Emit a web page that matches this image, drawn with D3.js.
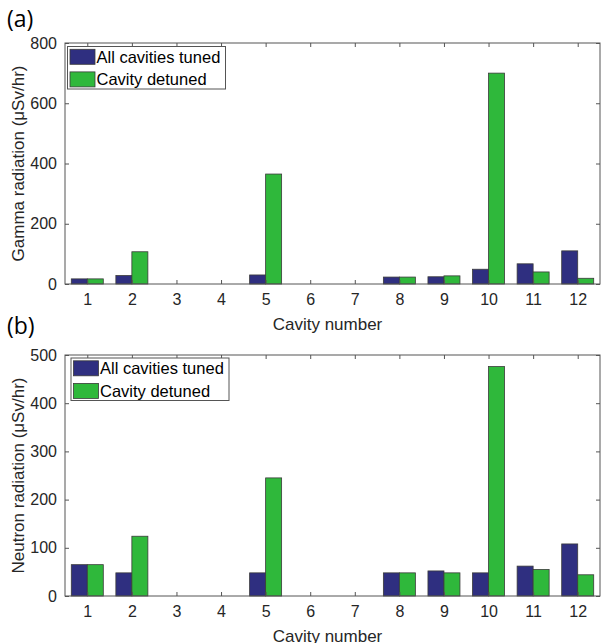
<!DOCTYPE html>
<html>
<head>
<meta charset="utf-8">
<script src="https://cdn.jsdelivr.net/npm/d3@7"></script>
<style>
  body { margin: 0; background: #fff; }
  svg { display: block; }
  text { font-family: "Liberation Sans", Arial, sans-serif; }
</style>
</head>
<body>
<div id="chart"></div>
<script>
// Data
var cavities = [1, 2, 3, 4, 5, 6, 7, 8, 9, 10, 11, 12];
var seriesNames = ["All cavities tuned", "Cavity detuned"];
var gammaTuned   = [17, 28, 0, 0, 30, 0, 0, 23, 24, 49, 67, 110];
var gammaDetuned = [17, 107, 0, 0, 365, 0, 0, 23, 27, 700, 40, 19];
var neutronTuned   = [65, 48, 0, 0, 48, 0, 0, 48, 52, 48, 62, 108];
var neutronDetuned = [65, 124, 0, 0, 245, 0, 0, 48, 48, 476, 55, 44];
var gammaTicks = [0, 200, 400, 600, 800];
var neutronTicks = [0, 100, 200, 300, 400, 500];

var colors = ["#2f2f80", "#2fb83b"];

var W = 601, H = 643;
var svg = d3.select("#chart").append("svg")
    .attr("width", W)
    .attr("height", H);

function panel(opts) {
    var g = svg.append("g");
    var left = 65, right = 600;

    var x = d3.scaleLinear().domain([0.5, 12.5]).range([left, right]);
    var y = d3.scaleLinear().domain([0, opts.max]).range([opts.bottom, opts.top]);
    var bw = 16;

    // bars
    opts.series.forEach(function(vals, s) {
        g.append("g").selectAll("rect")
            .data(vals.map(function(v, i) { return {c: cavities[i], v: v}; }).filter(function(d) { return d.v > 0; }))
            .enter()
            .append("rect")
            .attr("x", function(d) { return x(d.c) - bw + s * bw; })
            .attr("y", function(d) { return y(d.v); })
            .attr("width", bw)
            .attr("height", function(d) { return y(0) - y(d.v); })
            .attr("fill", colors[s])
            .attr("stroke", "#3a3a3a")
            .attr("stroke-width", 0.8);
    });

    // box
    g.append("rect")
        .attr("x", left).attr("y", opts.top)
        .attr("width", right - left).attr("height", opts.bottom - opts.top)
        .attr("fill", "none").attr("stroke", "#555").attr("stroke-width", 1);

    // axes with inward ticks
    var xb = g.append("g").attr("transform", "translate(0," + opts.bottom + ")")
        .call(d3.axisBottom(x).tickValues(cavities).tickSizeInner(-4).tickSizeOuter(0).tickPadding(10));
    var xt = g.append("g").attr("transform", "translate(0," + opts.top + ")")
        .call(d3.axisTop(x).tickValues(cavities).tickSizeInner(-4).tickSizeOuter(0).tickFormat(""));
    var yl = g.append("g").attr("transform", "translate(" + left + ",0)")
        .call(d3.axisLeft(y).tickValues(opts.ticks).tickSizeInner(-4).tickSizeOuter(0).tickPadding(8));
    var yr = g.append("g").attr("transform", "translate(" + right + ",0)")
        .call(d3.axisRight(y).tickValues(opts.ticks).tickSizeInner(-4).tickSizeOuter(0).tickFormat(""));

    [xb, xt, yl, yr].forEach(function(a) {
        a.select(".domain").remove();
        a.selectAll("line").attr("stroke", "#555");
        a.selectAll("text").attr("fill", "#262626").style("font-size", "16px")
            .style("font-family", "'Liberation Sans', Arial, sans-serif");
    });

    // axis titles
    g.append("text")
        .attr("x", (left + right) / 2 - 5)
        .attr("y", opts.bottom + 46)
        .attr("text-anchor", "middle")
        .style("font-size", "17px")
        .attr("fill", "#262626")
        .text("Cavity number");

    g.append("text")
        .attr("transform", "translate(24," + ((opts.top + opts.bottom) / 2) + ") rotate(-90)")
        .attr("text-anchor", "middle")
        .style("font-size", "17px")
        .attr("fill", "#262626")
        .text(opts.ylabel);

    // panel letter
    svg.append("text")
        .attr("x", 7)
        .attr("y", opts.letterY)
        .style("font-size", "23px")
        .style("font-family", "'Open Sans', sans-serif")
        .attr("fill", "#000")
        .text(opts.letter);

    // legend
    var lg = g.append("g").attr("transform", "translate(" + opts.legX + "," + opts.legY + ")");
    lg.append("rect")
        .attr("width", 158).attr("height", 42.5)
        .attr("fill", "#fff").attr("stroke", "#555").attr("stroke-width", 1);
    seriesNames.forEach(function(name, i) {
        lg.append("rect")
            .attr("x", 2.5).attr("y", 2.8 + i * 22.6)
            .attr("width", 25).attr("height", 15)
            .attr("fill", colors[i])
            .attr("stroke", "#3a3a3a").attr("stroke-width", 0.8);
        lg.append("text")
            .attr("x", 29).attr("y", 16 + i * 22.6)
            .style("font-size", "16.5px")
            .attr("fill", "#000")
            .text(name);
    });
}

panel({
    top: 43, bottom: 284, max: 800, ticks: gammaTicks,
    series: [gammaTuned, gammaDetuned],
    ylabel: "Gamma radiation (\u03bcSv/hr)",
    letter: "(a)", letterY: 27,
    legX: 67.5, legY: 46.5
});

panel({
    top: 355, bottom: 596, max: 500, ticks: neutronTicks,
    series: [neutronTuned, neutronDetuned],
    ylabel: "Neutron radiation (\u03bcSv/hr)",
    letter: "(b)", letterY: 334,
    legX: 71, legY: 358
});
</script>
</body>
</html>
